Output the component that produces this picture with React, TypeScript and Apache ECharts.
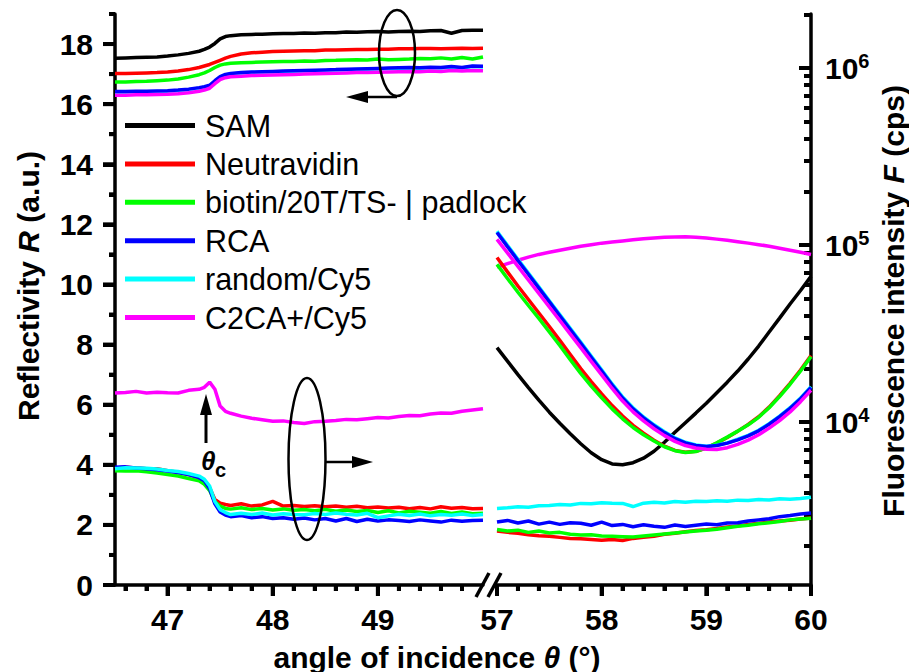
import React, { useEffect, useRef } from "react";
import * as echarts from "echarts";

// ---------- data ----------
const seriesNames = ["SAM", "Neutravidin", "biotin/20T/TS- | padlock", "RCA", "random/Cy5", "C2CA+/Cy5"];
const seriesColors = ["#000000", "#ff0000", "#00ff00", "#0000ff", "#00ffff", "#ff00ff"];

// left panel angles (deg)
const thetaLeft = [46.5, 46.6, 46.7, 46.8, 46.9, 47.0, 47.1, 47.2, 47.3, 47.35, 47.4, 47.45, 47.5, 47.55, 47.6, 47.7, 47.8, 47.9, 48.0, 48.1, 48.2, 48.3, 48.4, 48.5, 48.6, 48.7, 48.8, 48.9, 49.0, 49.1, 49.2, 49.3, 49.4, 49.5, 49.6, 49.7, 49.8, 49.9, 50.0];
// right panel angles (deg)
const thetaRight = [57.0, 57.1, 57.2, 57.3, 57.4, 57.5, 57.6, 57.7, 57.8, 57.9, 58.0, 58.1, 58.2, 58.3, 58.4, 58.5, 58.6, 58.7, 58.8, 58.9, 59.0, 59.1, 59.2, 59.3, 59.4, 59.5, 59.6, 59.7, 59.8, 59.9, 60.0];

// reflectivity R (a.u.) near critical angle
const rLeftSAM = [17.53, 17.54, 17.55, 17.56, 17.57, 17.6, 17.64, 17.69, 17.76, 17.82, 17.9, 18.02, 18.17, 18.25, 18.28, 18.31, 18.32, 18.33, 18.34, 18.35, 18.35, 18.37, 18.36, 18.38, 18.38, 18.4, 18.39, 18.41, 18.42, 18.4, 18.42, 18.43, 18.42, 18.44, 18.45, 18.36, 18.45, 18.46, 18.46];
const rLeftNeutravidin = [17.02, 17.02, 17.03, 17.04, 17.05, 17.07, 17.1, 17.15, 17.22, 17.27, 17.32, 17.39, 17.46, 17.53, 17.59, 17.67, 17.71, 17.73, 17.75, 17.76, 17.77, 17.78, 17.78, 17.8, 17.8, 17.81, 17.82, 17.82, 17.83, 17.83, 17.84, 17.84, 17.85, 17.85, 17.84, 17.85, 17.86, 17.85, 17.86];
const rLeftBiotin = [16.74, 16.74, 16.75, 16.76, 16.78, 16.8, 16.84, 16.9, 16.98, 17.04, 17.12, 17.22, 17.3, 17.34, 17.36, 17.38, 17.39, 17.4, 17.41, 17.42, 17.42, 17.44, 17.43, 17.45, 17.46, 17.47, 17.48, 17.47, 17.5, 17.48, 17.49, 17.5, 17.52, 17.51, 17.54, 17.5, 17.55, 17.5, 17.57];
const rLeftRCA = [16.42, 16.42, 16.43, 16.43, 16.44, 16.45, 16.47, 16.5, 16.55, 16.58, 16.63, 16.78, 16.92, 16.99, 17.02, 17.05, 17.07, 17.08, 17.09, 17.1, 17.11, 17.12, 17.13, 17.14, 17.15, 17.16, 17.17, 17.18, 17.19, 17.2, 17.21, 17.22, 17.21, 17.23, 17.22, 17.25, 17.22, 17.27, 17.26];
const rLeftRandom = [16.4, 16.4, 16.41, 16.41, 16.42, 16.43, 16.45, 16.48, 16.53, 16.56, 16.61, 16.76, 16.9, 16.97, 17.0, 17.03, 17.05, 17.06, 17.07, 17.08, 17.09, 17.1, 17.11, 17.12, 17.13, 17.14, 17.15, 17.16, 17.17, 17.18, 17.19, 17.2, 17.19, 17.21, 17.2, 17.23, 17.2, 17.25, 17.24];
const rLeftC2CA = [16.3, 16.3, 16.31, 16.31, 16.32, 16.33, 16.35, 16.38, 16.43, 16.47, 16.53, 16.68, 16.82, 16.88, 16.91, 16.93, 16.95, 16.96, 16.97, 16.98, 16.99, 17.0, 17.01, 17.02, 17.03, 17.04, 17.05, 17.05, 17.06, 17.07, 17.08, 17.09, 17.08, 17.1, 17.09, 17.12, 17.1, 17.12, 17.11];

// fluorescence F (cps) near critical angle
const fLeftNeutravidin = [5500, 5550, 5500, 5450, 5450, 5300, 5200, 5050, 4850, 4650, 4250, 3650, 3480, 3420, 3380, 3450, 3350, 3400, 3560, 3350, 3380, 3330, 3360, 3320, 3350, 3300, 3340, 3280, 3310, 3270, 3300, 3240, 3290, 3230, 3320, 3260, 3290, 3240, 3250];
const fLeftBiotin = [5300, 5280, 5300, 5230, 5150, 5050, 4950, 4800, 4650, 4450, 4100, 3550, 3350, 3250, 3220, 3280, 3200, 3250, 3180, 3230, 3170, 3200, 3150, 3210, 3130, 3180, 3120, 3160, 3080, 3150, 3060, 3130, 3090, 3050, 3120, 3040, 3100, 3030, 3050];
const fLeftRCA = [5550, 5580, 5500, 5450, 5380, 5280, 5180, 5050, 4850, 4650, 4200, 3450, 3100, 2980, 2920, 2960, 2880, 2920, 2850, 2880, 2820, 2870, 2800, 2850, 2760, 2850, 2740, 2820, 2760, 2800, 2780, 2740, 2800, 2760, 2720, 2790, 2750, 2780, 2790];
const fLeftRandom = [5450, 5520, 5500, 5480, 5420, 5320, 5250, 5120, 4950, 4750, 4350, 3550, 3200, 3080, 3000, 3050, 3000, 3060, 2980, 3030, 3000, 2990, 3040, 3000, 3060, 3010, 2980, 3050, 2880, 2950, 3010, 2960, 3020, 2950, 3000, 2970, 3020, 2960, 3000];
const fLeftC2CA = [14600, 14700, 14900, 14600, 14750, 14650, 14600, 15100, 15300, 15700, 16800, 15300, 12300, 11500, 11200, 10800, 10500, 10300, 10100, 10150, 9950, 9800, 10050, 10100, 10200, 10350, 10300, 10450, 10600, 10550, 10750, 10900, 10850, 11100, 11250, 11200, 11500, 11700, 11900];

// reflectivity R (a.u.) around the SPR minimum
const rRightSAM = [7.9, 7.45, 7.0, 6.57, 6.15, 5.75, 5.38, 5.03, 4.7, 4.4, 4.17, 4.03, 4.0, 4.07, 4.22, 4.45, 4.75, 5.08, 5.4, 5.72, 6.05, 6.4, 6.75, 7.12, 7.52, 7.95, 8.42, 8.88, 9.35, 9.8, 10.27];
const rRightNeutravidin = [10.9, 10.42, 9.95, 9.5, 9.05, 8.6, 8.14, 7.67, 7.2, 6.77, 6.36, 5.97, 5.62, 5.31, 5.05, 4.82, 4.62, 4.48, 4.42, 4.45, 4.56, 4.72, 4.91, 5.12, 5.34, 5.6, 5.92, 6.3, 6.71, 7.15, 7.64];
const rRightBiotin = [10.67, 10.2, 9.74, 9.3, 8.87, 8.42, 7.97, 7.5, 7.04, 6.62, 6.23, 5.86, 5.53, 5.24, 5.0, 4.79, 4.6, 4.47, 4.41, 4.44, 4.56, 4.73, 4.92, 5.12, 5.33, 5.58, 5.9, 6.27, 6.68, 7.12, 7.6];
const rRightRCA = [11.73, 11.26, 10.8, 10.34, 9.88, 9.42, 8.96, 8.5, 8.04, 7.58, 7.12, 6.65, 6.22, 5.86, 5.56, 5.3, 5.07, 4.87, 4.73, 4.64, 4.61, 4.64, 4.72, 4.83, 4.96, 5.13, 5.35, 5.6, 5.88, 6.2, 6.57];
const rRightRandom = [11.77, 11.3, 10.84, 10.38, 9.92, 9.46, 9.0, 8.54, 8.08, 7.62, 7.16, 6.69, 6.26, 5.9, 5.59, 5.33, 5.1, 4.9, 4.75, 4.66, 4.62, 4.65, 4.73, 4.85, 4.98, 5.15, 5.37, 5.62, 5.9, 6.22, 6.6];
const rRightC2CA = [11.5, 11.05, 10.6, 10.15, 9.7, 9.25, 8.8, 8.35, 7.9, 7.44, 6.99, 6.54, 6.12, 5.76, 5.46, 5.2, 4.97, 4.78, 4.64, 4.56, 4.52, 4.51, 4.57, 4.68, 4.82, 5.0, 5.22, 5.47, 5.76, 6.1, 6.48];

// fluorescence F (cps) around the SPR minimum
const fRightNeutravidin = [2420, 2380, 2350, 2310, 2280, 2260, 2230, 2200, 2190, 2170, 2150, 2170, 2140, 2200, 2230, 2260, 2320, 2350, 2400, 2440, 2460, 2500, 2550, 2590, 2640, 2680, 2720, 2760, 2790, 2830, 2870];
const fRightBiotin = [2470, 2420, 2450, 2380, 2420, 2360, 2380, 2320, 2300, 2310, 2270, 2260, 2250, 2240, 2270, 2300, 2330, 2360, 2390, 2420, 2450, 2480, 2530, 2580, 2610, 2660, 2700, 2740, 2800, 2830, 2860];
const fRightRCA = [2720, 2780, 2690, 2760, 2650, 2720, 2640, 2700, 2680, 2610, 2720, 2600, 2640, 2560, 2630, 2580, 2540, 2620, 2570, 2610, 2650, 2630, 2690, 2700, 2760, 2800, 2840, 2920, 2960, 3020, 3060];
const fRightRandom = [3250, 3280, 3320, 3300, 3360, 3380, 3420, 3400, 3470, 3450, 3500, 3480, 3470, 3330, 3480, 3520, 3490, 3560, 3520, 3570, 3560, 3590, 3570, 3620, 3600, 3650, 3630, 3680, 3660, 3700, 3760];
const fRightC2CA = [75000, 78500, 82000, 85500, 88500, 91000, 93500, 96000, 98500, 100500, 102500, 104000, 105500, 107000, 108500, 109500, 110500, 111000, 111200, 110800, 109500, 108000, 106500, 104500, 102500, 100500, 98500, 96000, 93500, 91000, 88500];

// axis ticks
const xMajorLeft = [47, 48, 49];
const xMinorLeft = [46.6, 46.8, 47.2, 47.4, 47.6, 47.8, 48.2, 48.4, 48.6, 48.8, 49.2, 49.4, 49.6, 49.8];
const xMajorRight = [57, 58, 59, 60];
const xMinorRight = [57.2, 57.4, 57.6, 57.8, 58.2, 58.4, 58.6, 58.8, 59.2, 59.4, 59.6, 59.8];
const rMajor = [0, 2, 4, 6, 8, 10, 12, 14, 16, 18];
const rMinor = [1, 3, 5, 7, 9, 11, 13, 15, 17, 19];
const fMajor = [10000, 100000, 1000000];
const fMinor = [2000, 3000, 4000, 5000, 6000, 7000, 8000, 9000, 20000, 30000, 40000, 50000, 60000, 70000, 80000, 90000, 200000, 300000, 400000, 500000, 600000, 700000, 800000, 900000, 2000000];

const X_LEFT = [46.5, 50];
const X_RIGHT = [57, 60];
const R_RANGE = [0, 19];
const F_RANGE = [1200, 2020000];

const FONT = "'Liberation Sans', Arial, Helvetica, sans-serif";
const AW = 3.5;
const TICK_W = 4;
const TICK_COLOR = "#000000";
const LEN = { xMajor: 11, xMinor: 6, rMajor: 12, rMinor: 6, fMajor: 12, fMinor: 7 };

const pairs = (xs: number[], ys: number[]) => xs.map((x, i) => [x, ys[i]]);

function line(idx: number, xAxisIndex: number, yAxisIndex: number, xs: number[], ys: number[]) {
  const color = seriesColors[idx];
  return {
    type: "line",
    name: seriesNames[idx],
    xAxisIndex,
    yAxisIndex,
    data: pairs(xs, ys),
    showSymbol: false,
    symbol: "none",
    color,
    lineStyle: { color, width: 3.5 },
    itemStyle: { color },
    silent: true,
  };
}

function valAxis(base: any, opts: { line: boolean; ticks: number[]; len: number; inside: boolean; label?: any }) {
  return {
    ...base,
    axisLine: { show: opts.line, onZero: false, lineStyle: { color: "#000", width: AW } },
    axisTick: { show: true, inside: opts.inside, length: opts.len, customValues: opts.ticks, lineStyle: { color: TICK_COLOR, width: TICK_W } },
    axisLabel: opts.label ? opts.label : { show: false },
    splitLine: { show: false },
    minorTick: { show: false },
  };
}

const numLabel = (vals: number[], margin: number) => ({
  show: true, customValues: vals, margin, color: "#000", fontSize: 30, fontWeight: "bold", fontFamily: FONT,
});

export default function App() {
  const ref = useRef<HTMLDivElement>(null);
  useEffect(() => {
    if (!ref.current) return;
    const chart = echarts.init(ref.current, null, { renderer: "svg" });
    // y axes: 0 R(left, visible) | 1 R minor ticks | 2 F hidden (grid0) | 3 F (right, visible) | 4 F minor ticks | 5 R hidden (grid1)
    const series: any[] = [
      line(0, 0, 0, thetaLeft, rLeftSAM),
      line(1, 0, 0, thetaLeft, rLeftNeutravidin),
      line(2, 0, 0, thetaLeft, rLeftBiotin),
      line(4, 0, 0, thetaLeft, rLeftRandom),
      line(3, 0, 0, thetaLeft, rLeftRCA),
      line(5, 0, 0, thetaLeft, rLeftC2CA),
      line(1, 0, 2, thetaLeft, fLeftNeutravidin),
      line(2, 0, 2, thetaLeft, fLeftBiotin),
      line(3, 0, 2, thetaLeft, fLeftRCA),
      line(4, 0, 2, thetaLeft, fLeftRandom),
      line(5, 0, 2, thetaLeft, fLeftC2CA),
      line(1, 2, 3, thetaRight, fRightNeutravidin),
      line(2, 2, 3, thetaRight, fRightBiotin),
      line(3, 2, 3, thetaRight, fRightRCA),
      line(4, 2, 3, thetaRight, fRightRandom),
      line(5, 2, 3, thetaRight, fRightC2CA),
      line(0, 2, 5, thetaRight, rRightSAM),
      line(1, 2, 5, thetaRight, rRightNeutravidin),
      line(2, 2, 5, thetaRight, rRightBiotin),
      line(4, 2, 5, thetaRight, rRightRandom),
      line(3, 2, 5, thetaRight, rRightRCA),
      line(5, 2, 5, thetaRight, rRightC2CA),
    ];

    const titleRich = (size: number) => ({
      n: { fontSize: size, fontWeight: "bold", fontFamily: FONT, fill: "#000", color: "#000" },
      i: { fontSize: size, fontWeight: "bold", fontStyle: "italic", fontFamily: FONT, fill: "#000", color: "#000" },
    });

    const graphics: any[] = [
      { type: "line", shape: { x1: 476, y1: 597, x2: 489, y2: 573 }, style: { stroke: "#000", lineWidth: 3.5 }, z: 20 },
      { type: "line", shape: { x1: 488, y1: 597, x2: 501, y2: 573 }, style: { stroke: "#000", lineWidth: 3.5 }, z: 20 },
      { type: "ellipse", shape: { cx: 397, cy: 53, rx: 18, ry: 43 }, style: { fill: "none", stroke: "#000", lineWidth: 2.5 }, z: 20 },
      { type: "line", shape: { x1: 397, y1: 97, x2: 366, y2: 97 }, style: { stroke: "#000", lineWidth: 2.5 }, z: 20 },
      { type: "polygon", shape: { points: [[346, 97], [368, 91], [368, 103]] }, style: { fill: "#000" }, z: 20 },
      { type: "ellipse", shape: { cx: 307, cy: 459, rx: 18.5, ry: 81 }, style: { fill: "none", stroke: "#000", lineWidth: 2.5 }, z: 20 },
      { type: "line", shape: { x1: 325, y1: 462, x2: 354, y2: 462 }, style: { stroke: "#000", lineWidth: 2.5 }, z: 20 },
      { type: "polygon", shape: { points: [[373, 462], [352, 456], [352, 468]] }, style: { fill: "#000" }, z: 20 },
      { type: "line", shape: { x1: 206, y1: 443, x2: 206, y2: 412 }, style: { stroke: "#000", lineWidth: 3 }, z: 20 },
      { type: "polygon", shape: { points: [[206, 394], [200, 415], [212, 415]] }, style: { fill: "#000" }, z: 20 },
      { type: "text", x: 201, y: 461, z: 20, style: { text: "θ", fill: "#000", fontSize: 26, fontWeight: "bold", fontStyle: "italic", fontFamily: FONT, align: "left", verticalAlign: "middle" } },
      { type: "text", x: 215, y: 470, z: 20, style: { text: "c", fill: "#000", fontSize: 20, fontWeight: "bold", fontFamily: FONT, align: "left", verticalAlign: "middle" } },
      { type: "text", x: 28, y: 286, rotation: Math.PI / 2, z: 20, style: { text: "{n|Reflectivity }{i|R}{n| (a.u.)}", rich: titleRich(30), align: "center", verticalAlign: "middle", fill: "#000" } },
      { type: "text", x: 437, y: 657, z: 20, style: { text: "{n|angle of incidence }{i|θ}{n| (°)}", rich: titleRich(30), align: "center", verticalAlign: "middle", fill: "#000" } },
      { type: "text", x: 893, y: 301, rotation: Math.PI / 2, z: 20, style: { text: "{n|Fluorescence intensity }{i|F}{n| (cps)}", rich: titleRich(30), align: "center", verticalAlign: "middle", fill: "#000" } },
    ];

    const xl = { type: "value", gridIndex: 0, min: X_LEFT[0], max: X_LEFT[1], position: "bottom" };
    const xr = { type: "value", gridIndex: 1, min: X_RIGHT[0], max: X_RIGHT[1], position: "bottom" };
    const yR0 = { type: "value", gridIndex: 0, min: R_RANGE[0], max: R_RANGE[1], position: "left" };
    const yF1 = { type: "log", logBase: 10, gridIndex: 1, min: F_RANGE[0], max: F_RANGE[1], position: "right" };

    const option: any = {
      animation: false,
      backgroundColor: "#ffffff",
      grid: [
        { left: 115, top: 14, width: 368, height: 571, containLabel: false },
        { left: 497, top: 14, width: 314, height: 571, containLabel: false },
      ],
      legend: {
        data: seriesNames,
        orient: "vertical",
        left: 125,
        top: 110,
        padding: 0,
        icon: "rect",
        itemWidth: 70,
        itemHeight: 5,
        itemGap: 7.4,
        selectedMode: false,
        textStyle: { fontSize: 30.5, lineHeight: 30, color: "#000", fontFamily: FONT, padding: [0, 0, 0, 5] },
      },
      xAxis: [
        valAxis(xl, { line: true, ticks: xMajorLeft, len: LEN.xMajor, inside: false, label: numLabel(xMajorLeft, 19) }),
        valAxis(xl, { line: false, ticks: xMinorLeft, len: LEN.xMinor, inside: false }),
        valAxis(xr, { line: true, ticks: xMajorRight, len: LEN.xMajor, inside: false, label: numLabel(xMajorRight, 19) }),
        valAxis(xr, { line: false, ticks: xMinorRight, len: LEN.xMinor, inside: false }),
      ],
      yAxis: [
        valAxis(yR0, { line: true, ticks: rMajor, len: LEN.rMajor, inside: false, label: numLabel(rMajor, 22) }),
        valAxis(yR0, { line: false, ticks: rMinor, len: LEN.rMinor, inside: false }),
        { type: "log", logBase: 10, gridIndex: 0, min: F_RANGE[0], max: F_RANGE[1], position: "right", show: false, splitLine: { show: false } },
        valAxis(yF1, {
          line: true, ticks: fMajor, len: LEN.fMajor, inside: true,
          label: {
            show: true,
            customValues: fMajor,
            margin: 14,
            formatter: (v: number) => `{b|10}{s|${Math.round(Math.log10(v))}}`,
            rich: {
              b: { fontSize: 30, fontWeight: "bold", fontFamily: FONT, color: "#000" },
              s: { fontSize: 20, fontWeight: "bold", fontFamily: FONT, color: "#000", padding: [0, 0, 14, 0] },
            },
          },
        }),
        valAxis(yF1, { line: false, ticks: fMinor, len: LEN.fMinor, inside: true }),
        { type: "value", gridIndex: 1, min: R_RANGE[0], max: R_RANGE[1], position: "left", show: false, splitLine: { show: false } },
      ],
      series,
    };
    chart.setOption(option);

    // outward tick marks on the left and bottom axes, placed through the axes' own scales
    const toPx = (xi: number, yi: number, grid: number, val: number[]) => {
      let p: any = null;
      try { p = chart.convertToPixel({ xAxisIndex: xi, yAxisIndex: yi } as any, val); } catch (e) { p = null; }
      if (!p || !isFinite(p[0]) || !isFinite(p[1])) {
        try { p = chart.convertToPixel({ gridIndex: grid } as any, val); } catch (e) { p = null; }
      }
      return p && isFinite(p[0]) && isFinite(p[1]) ? p : null;
    };
    const tickGraphics: any[] = [];
    const tickLine = (x1: number, y1: number, x2: number, y2: number) =>
      tickGraphics.push({ type: "line", shape: { x1, y1, x2, y2 }, style: { stroke: TICK_COLOR, lineWidth: TICK_W } });
    const xTicks = (xi: number, yi: number, grid: number, yVal: number, vals: number[], len: number) =>
      vals.forEach((v) => {
        const p = toPx(xi, yi, grid, [v, yVal]);
        if (p) tickLine(p[0], p[1], p[0], p[1] + len);
      });
    const yTicks = (xi: number, yi: number, grid: number, xVal: number, vals: number[], len: number) =>
      vals.forEach((v) => {
        const p = toPx(xi, yi, grid, [xVal, v]);
        if (p) tickLine(p[0] - len, p[1], p[0], p[1]);
      });
    xTicks(0, 0, 0, R_RANGE[0], xMajorLeft, LEN.xMajor);
    xTicks(0, 0, 0, R_RANGE[0], xMinorLeft, LEN.xMinor);
    xTicks(2, 3, 1, F_RANGE[0], xMajorRight, LEN.xMajor);
    xTicks(2, 3, 1, F_RANGE[0], xMinorRight, LEN.xMinor);
    yTicks(0, 0, 0, X_LEFT[0], rMajor, LEN.rMajor);
    yTicks(0, 0, 0, X_LEFT[0], rMinor, LEN.rMinor);

    chart.setOption({ graphic: [...graphics, ...tickGraphics] });
    return () => chart.dispose();
  }, []);
  return <div ref={ref} style={{ position: "fixed", left: 0, top: 0, width: 909, height: 672, background: "#fff" }} />;
}
